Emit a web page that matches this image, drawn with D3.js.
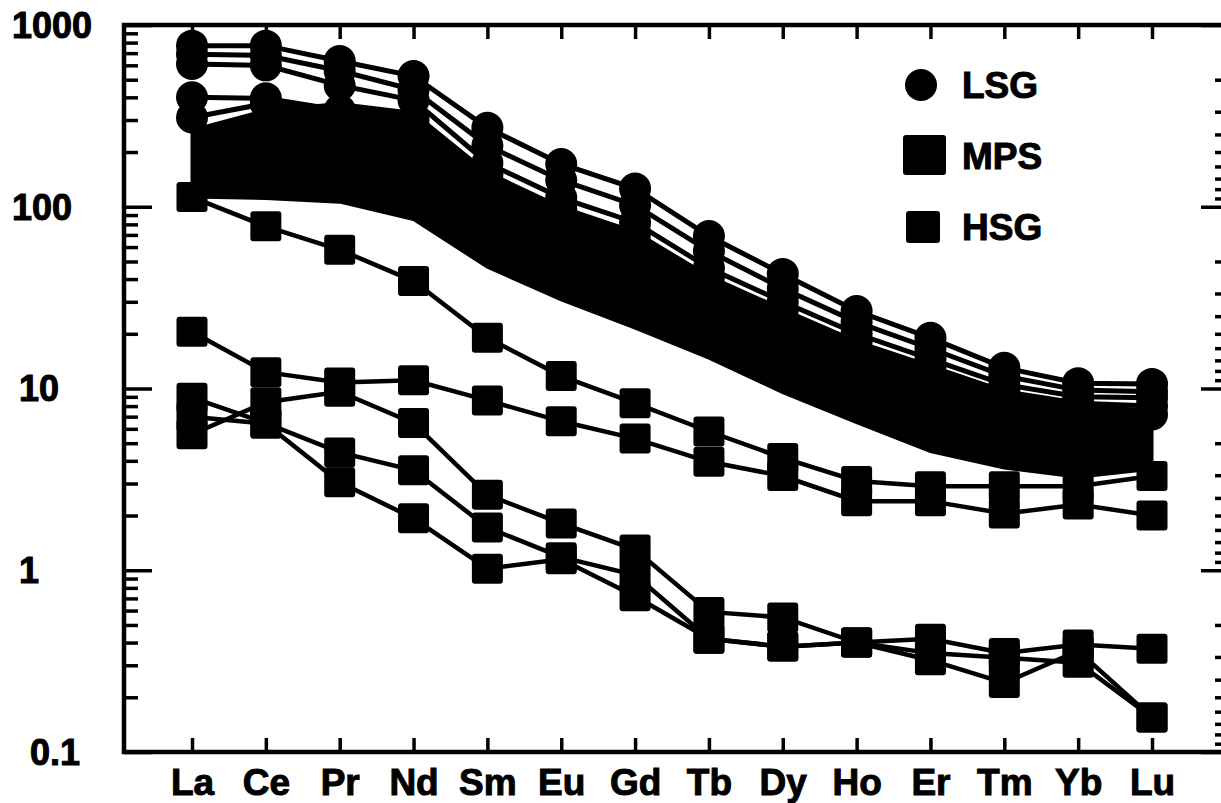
<!DOCTYPE html>
<html>
<head>
<meta charset="utf-8">
<script src="https://cdn.jsdelivr.net/npm/d3@7"></script>
<style>
  body { margin: 0; background: #fff; }
  svg text { font-family: "Liberation Sans", Arial, sans-serif; font-weight: bold; fill: #000; }
</style>
</head>
<body>
<div id="chart"></div>
<script>
// REE elements on the x axis
const elements = ["La", "Ce", "Pr", "Nd", "Sm", "Eu", "Gd", "Tb", "Dy", "Ho", "Er", "Tm", "Yb", "Lu"];

// LSG samples (circles)
const lsg1 = [770, 770, 634, 524, 272, 172, 126, 69, 42.7, 26.7, 19.0, 13.0, 10.7, 10.6];
const lsg2 = [690, 680, 560, 440, 217, 140, 102, 57, 35.5, 23.2, 16.6, 11.7, 9.8, 9.6];
const lsg3 = [610, 600, 465, 385, 174, 112, 82, 46, 30.0, 20.0, 14.5, 10.5, 9.0, 8.9];
const lsg4 = [400, 395, 340, 300, 150, 97, 72, 41, 27.0, 18.0, 13.2, 9.6, 8.3, 8.0];
const lsg5 = [310, 370, 330, 280, 135, 88, 64, 37, 24.0, 16.0, 12.0, 9.0, 7.5, 7.2];

// MPS samples: the dense bundle, kept as its upper and lower envelope
const mpsUpper = [265, 340, 370, 330, 155, 100, 73, 41, 27, 18, 13, 9.5, 8.1, 7.6];
const mpsLower = [113, 111, 106, 85, 46.5, 30.7, 21.5, 14.7, 9.5, 6.5, 4.5, 3.65, 3.25, 3.6];

// HSG samples (squares)
const hsg1 = [113, 78, 58, 39, 19, 11.7, 8.3, 5.8, 4.15, 3.1, 2.9, 2.9, 2.9, 3.3];
const hsg2 = [20.5, 12.3, 10.8, 11.1, 8.6, 6.6, 5.3, 3.95, 3.3, 2.4, 2.4, 2.05, 2.3, 2.0];
const hsg3 = [8.9, 6.45, 4.45, 3.55, 1.72, 1.18, 0.94, 0.42, 0.38, 0.40, 0.32, 0.24, 0.36, 0.155];
const hsg4 = [7.0, 6.4, 3.05, 1.93, 1.02, 1.15, 0.72, 0.42, 0.38, 0.40, 0.35, 0.33, 0.31, 0.155];
const hsg5 = [5.6, 8.4, 9.6, 6.45, 2.6, 1.81, 1.3, 0.59, 0.55, 0.40, 0.42, 0.35, 0.39, 0.37];

const yLabels = [1000, 100, 10, 1, 0.1];
const legendItems = ["LSG", "MPS", "HSG"];

const width = 1221, height = 803;
const frame = {left: 124, right: 1229, top: 25, bottom: 752};

const svg = d3.select("#chart").append("svg")
    .attr("width", width)
    .attr("height", height);

const x = d3.scalePoint()
    .domain(elements)
    .range([192, 1152]);

const y = d3.scaleLog()
    .domain([0.1, 1000])
    .range([frame.bottom, frame.top]);

// minor + major log ticks
const logTicks = [];
for (let d = -1; d < 3; d++) {
    for (let k = 1; k < 10; k++) logTicks.push(k * Math.pow(10, d));
}
logTicks.push(1000);
// the right axis carries its minor ticks mirrored inside each decade
const mirrorTicks = [];
for (let d = 0; d < 4; d++) {
    mirrorTicks.push(Math.pow(10, d - 1));
    for (let k = 2; k < 10; k++) mirrorTicks.push(Math.pow(10, d) / k);
}
mirrorTicks.push(1000);
const isMajor = v => Math.abs(Math.log10(v) - Math.round(Math.log10(v))) < 1e-6;

// MPS band
const band = d3.area()
    .x((d, i) => x(elements[i]))
    .y0((d, i) => y(mpsLower[i]))
    .y1(d => y(d));
svg.append("path")
    .datum(mpsUpper)
    .attr("d", band)
    .attr("fill", "#000")
    .attr("stroke", "#000")
    .attr("stroke-width", 3);

const line = d3.line()
    .x((d, i) => x(elements[i]))
    .y(d => y(d));

// LSG lines with circles
[lsg5, lsg4, lsg3, lsg2, lsg1].forEach(s => {
    svg.append("path")
        .datum(s)
        .attr("d", line)
        .attr("fill", "none")
        .attr("stroke", "#000")
        .attr("stroke-width", 5);
    svg.selectAll(null)
        .data(s)
        .enter().append("circle")
        .attr("cx", (d, i) => x(elements[i]))
        .attr("cy", d => y(d))
        .attr("r", 16)
        .attr("fill", "#000");
});

// HSG lines with squares
[hsg1, hsg2, hsg3, hsg4, hsg5].forEach(s => {
    svg.append("path")
        .datum(s)
        .attr("d", line)
        .attr("fill", "none")
        .attr("stroke", "#000")
        .attr("stroke-width", 4.5);
    svg.selectAll(null)
        .data(s)
        .enter().append("rect")
        .attr("x", (d, i) => x(elements[i]) - 15.5)
        .attr("y", d => y(d) - 15)
        .attr("width", 31)
        .attr("height", 30)
        .attr("rx", 3)
        .attr("fill", "#000");
});

// axes
function styleAxis(g) {
    g.select(".domain").remove();
    g.selectAll(".tick line").attr("stroke", "#000").attr("stroke-width", 3.5);
}

svg.append("g")
    .attr("transform", "translate(0," + frame.bottom + ")")
    .call(d3.axisBottom(x).tickSize(-14).tickPadding(17))
    .call(styleAxis)
    .call(g => g.selectAll("text")
        .style("font-size", "37px")
        .style("font-family", "'Liberation Sans', Arial, sans-serif")
        .attr("fill", "#000")
        .attr("stroke", "#000")
        .attr("stroke-width", 1));

svg.append("g")
    .attr("transform", "translate(0," + frame.top + ")")
    .call(d3.axisBottom(x).tickSize(14).tickFormat(""))
    .call(styleAxis);

svg.append("g")
    .attr("transform", "translate(" + frame.left + ",0)")
    .call(d3.axisRight(y).tickValues(logTicks).tickFormat(""))
    .call(styleAxis)
    .call(g => g.selectAll(".tick line").attr("x2", d => isMajor(d) ? 28 : 14));

svg.append("g")
    .attr("transform", "translate(" + frame.right + ",0)")
    .call(d3.axisLeft(y).tickValues(mirrorTicks).tickFormat(""))
    .call(styleAxis)
    .call(g => g.selectAll(".tick line").attr("x2", d => isMajor(d) ? -28 : -14));

svg.append("rect")
    .attr("x", frame.left)
    .attr("y", frame.top)
    .attr("width", frame.right - frame.left)
    .attr("height", frame.bottom - frame.top)
    .attr("fill", "none")
    .attr("stroke", "#000")
    .attr("stroke-width", 4.5);

// y labels (left edges as in the original, they are not aligned)
const labelX = {1000: 12, 100: 12, 10: 19, 1: 19, 0.1: 30};
svg.selectAll(".ylab")
    .data(yLabels)
    .enter().append("text")
    .attr("class", "ylab")
    .attr("x", d => labelX[d])
    .attr("y", d => y(d))
    .attr("dy", "0.36em")
    .style("font-size", "36px")
    .attr("stroke", "#000")
    .attr("stroke-width", 1)
    .text(d => d);

// legend
const legend = svg.selectAll(".legend")
    .data(legendItems)
    .enter().append("g")
    .attr("class", "legend")
    .attr("transform", (d, i) => "translate(921," + (85 + i * 71) + ")");

legend.filter(d => d === "LSG").append("circle")
    .attr("r", 16)
    .attr("fill", "#000");
legend.filter(d => d === "MPS").append("rect")
    .attr("x", -18).attr("y", -21)
    .attr("width", 43).attr("height", 40)
    .attr("rx", 3)
    .attr("fill", "#000");
legend.filter(d => d === "HSG").append("rect")
    .attr("x", -15).attr("y", -16)
    .attr("width", 34).attr("height", 32)
    .attr("rx", 3)
    .attr("fill", "#000");

legend.append("text")
    .attr("x", 41)
    .attr("dy", "0.36em")
    .style("font-size", "37px")
    .attr("stroke", "#000")
    .attr("stroke-width", 1)
    .text(d => d);
</script>
</body>
</html>
